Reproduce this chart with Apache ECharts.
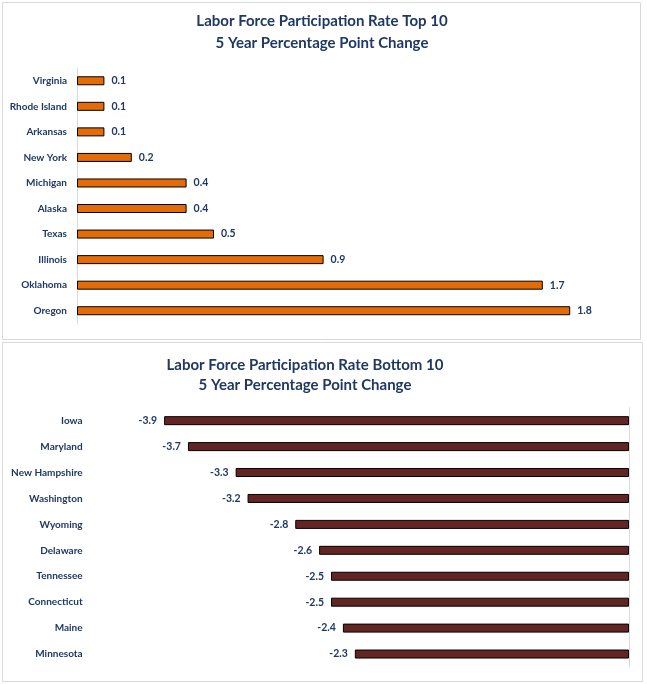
<!DOCTYPE html>
<html>
<head>
<meta charset="utf-8">
<script src="https://cdn.jsdelivr.net/npm/echarts@6/dist/echarts.min.js"></script>
<style>
html,body{margin:0;padding:0;background:#fff;}
#c{width:647px;height:684px;}
</style>
</head>
<body>
<div id="c"></div>
<script>
var topStates = ['Virginia','Rhode Island','Arkansas','New York','Michigan','Alaska','Texas','Illinois','Oklahoma','Oregon'];
var topValues = [0.1,0.1,0.1,0.2,0.4,0.4,0.5,0.9,1.7,1.8];
var bottomStates = ['Iowa','Maryland','New Hampshire','Washington','Wyoming','Delaware','Tennessee','Connecticut','Maine','Minnesota'];
var bottomValues = [-3.9,-3.7,-3.3,-3.2,-2.8,-2.6,-2.5,-2.5,-2.4,-2.3];
var topTitle = 'Labor Force Participation Rate Top 10\n5 Year Percentage Point Change';
var bottomTitle = 'Labor Force Participation Rate Bottom 10\n5 Year Percentage Point Change';

var navy = '#1F3864';
var font = 'Lato';
var chart = echarts.init(document.getElementById('c'), null, {renderer:'canvas'});
var labelStyle = {color: navy, fontFamily: font, fontWeight: 'bold', fontSize: 10};
chart.setOption({
  animation: false,
  backgroundColor: '#fff',
  graphic: [
    {type:'rect', shape:{x:2.5,y:2.5,width:638,height:337}, style:{fill:'#fff', stroke:'#d9d9d9', lineWidth:1}, z:-10},
    {type:'rect', shape:{x:2.5,y:342.5,width:640,height:339}, style:{fill:'#fff', stroke:'#d9d9d9', lineWidth:1}, z:-10}
  ],
  title: [
    {text: topTitle, left: 317, top: 5, textAlign: 'center',
     textStyle: {color: navy, fontFamily: font, fontWeight: 'bold', fontSize: 15, lineHeight: 22}},
    {text: bottomTitle, left: 300, top: 350, textAlign: 'center',
     textStyle: {color: navy, fontFamily: font, fontWeight: 'bold', fontSize: 15, lineHeight: 20}}
  ],
  grid: [
    {left: 77, width: 548, top: 68, height: 255.5},
    {left: 92.6, width: 536.4, top: 407.7, height: 259.3}
  ],
  xAxis: [
    {gridIndex:0, type:'value', min:0, max:2, interval:0.2, show:false},
    {gridIndex:1, type:'value', min:-4.5, max:0, interval:0.5, show:false}
  ],
  yAxis: [
    {gridIndex:0, type:'category', data: topStates, inverse:true, position:'left',
     axisLine:{show:true, onZero:false, lineStyle:{color:'#d9d9d9'}}, axisTick:{show:false},
     axisLabel: Object.assign({margin:10}, labelStyle), splitLine:{show:false}},
    {gridIndex:1, type:'category', data: bottomStates, inverse:true, position:'left',
     axisLine:{show:false, onZero:false}, axisTick:{show:false},
     axisLabel: Object.assign({margin:10}, labelStyle), splitLine:{show:false}},
    {gridIndex:1, type:'category', data: bottomStates, inverse:true, position:'right',
     axisLine:{show:true, onZero:false, lineStyle:{color:'#d9d9d9'}}, axisTick:{show:false},
     axisLabel:{show:false}, splitLine:{show:false}}
  ],
  series: [
    {type:'bar', xAxisIndex:0, yAxisIndex:0, data: topValues, barWidth: 9,
     itemStyle:{color:'#E36C09', borderColor:'#000', borderWidth:1},
     label:{show:true, position:'right', distance:7, color: navy, fontFamily: font, fontWeight:'bold', fontSize:10.5,
       formatter: function(p){return p.value.toFixed(1);}}},
    {type:'bar', xAxisIndex:1, yAxisIndex:1, data: bottomValues, barWidth: 9,
     itemStyle:{color:'#632523', borderColor:'#000', borderWidth:1},
     label:{show:true, position:'left', distance:7, color: navy, fontFamily: font, fontWeight:'bold', fontSize:10.5,
       formatter: function(p){return p.value.toFixed(1);}}}
  ]
});
</script>
</body>
</html>
